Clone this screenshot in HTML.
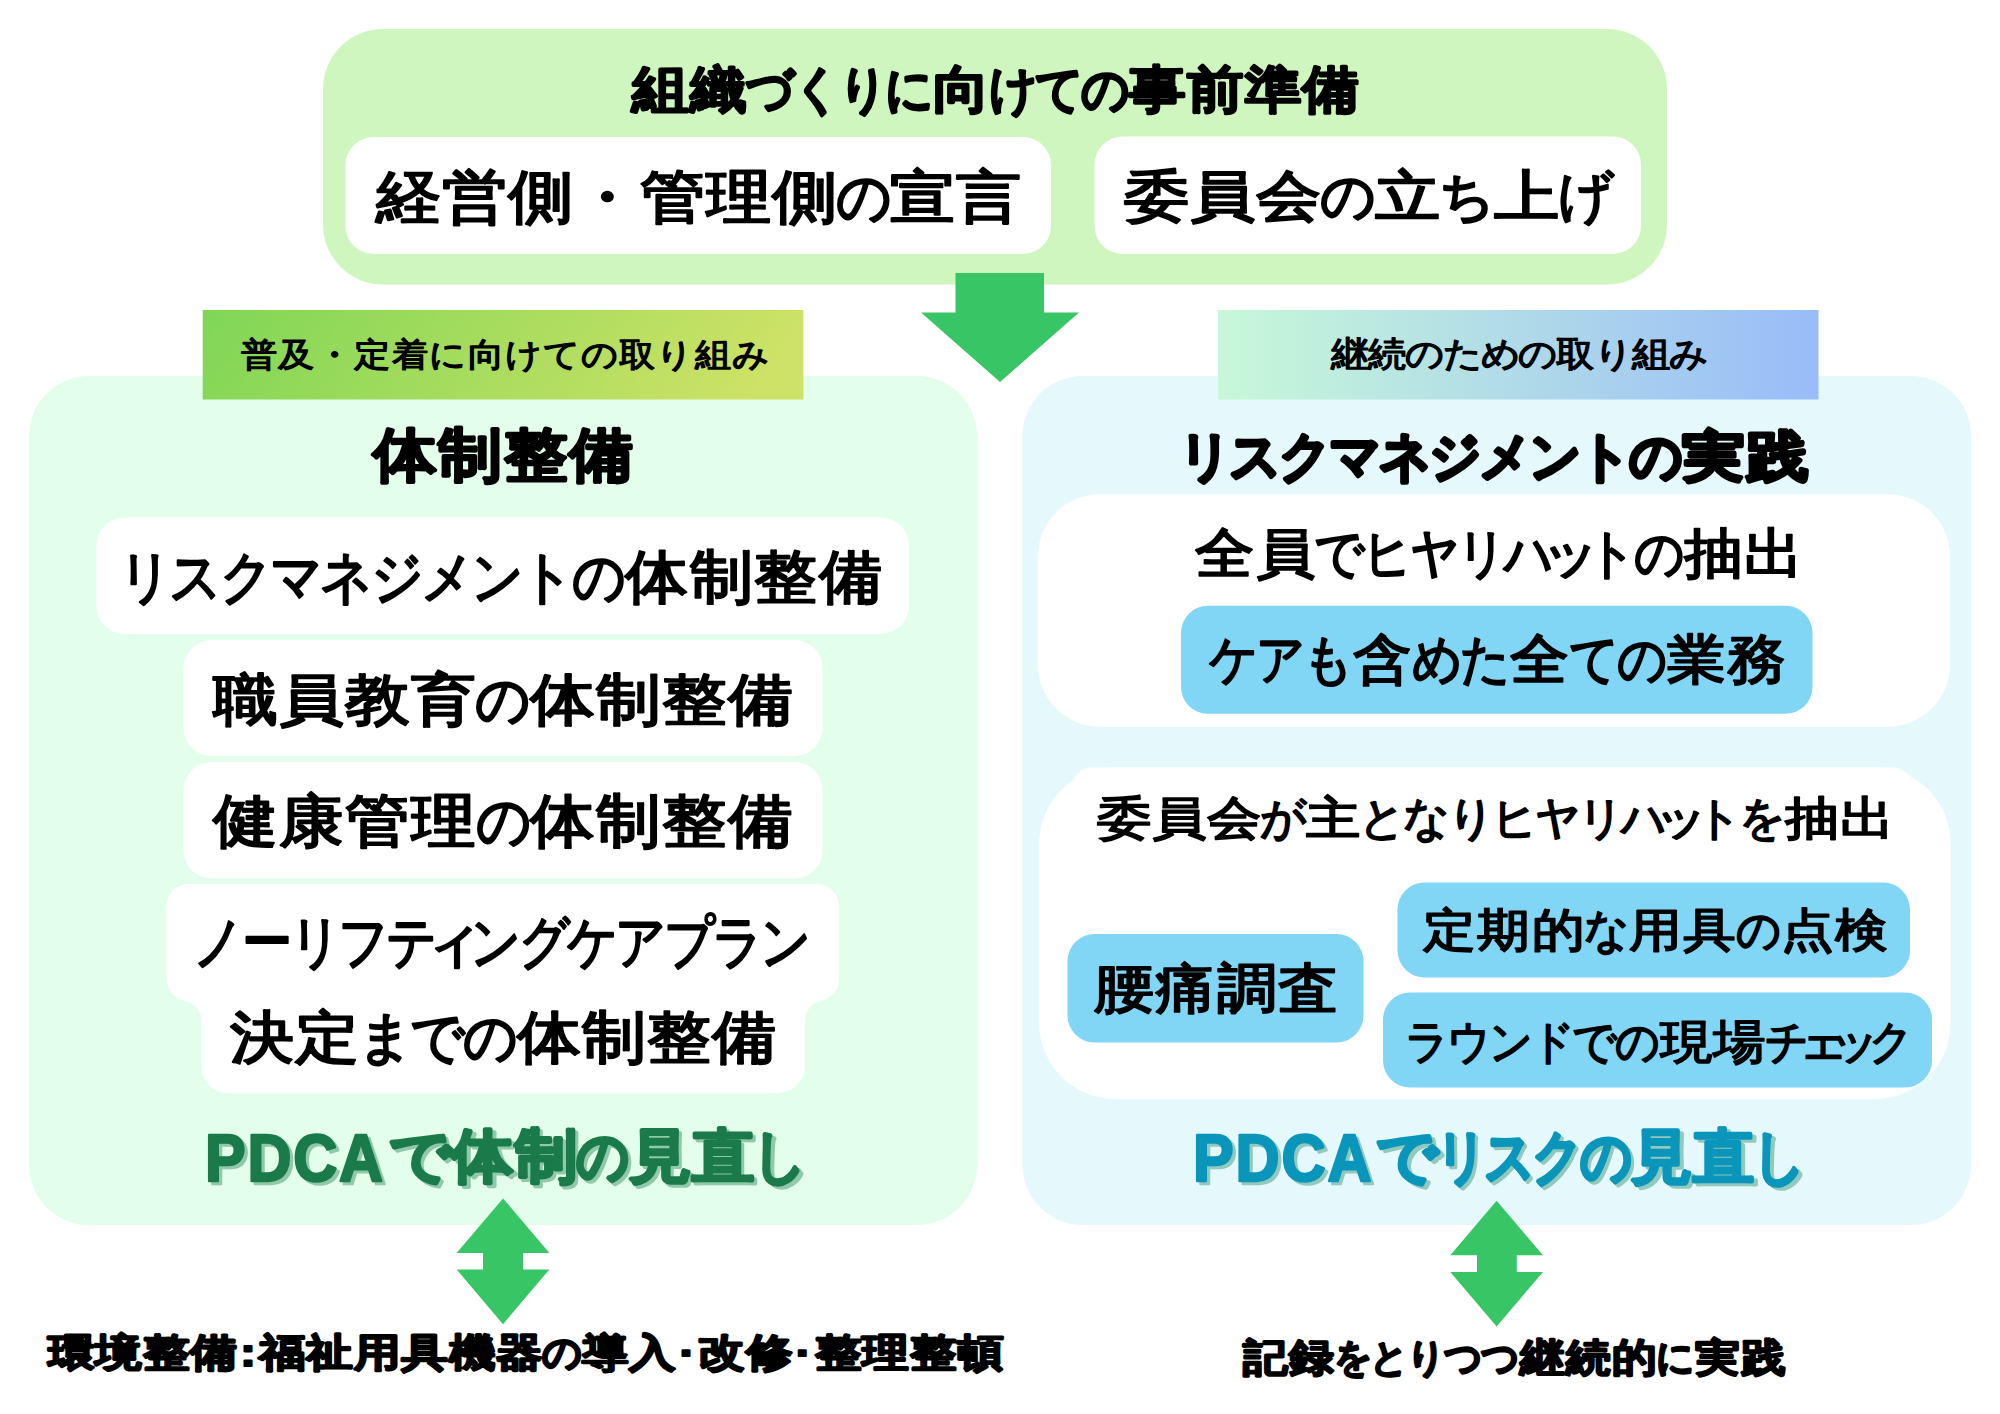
<!DOCTYPE html>
<html lang="ja"><head><meta charset="utf-8"><title>組織づくり</title>
<style>html,body{margin:0;padding:0;background:#fff;width:2000px;height:1414px;overflow:hidden}
svg{display:block;font-family:"Liberation Sans",sans-serif}
text{font-family:"Liberation Sans",sans-serif}</style></head>
<body><svg width="2000" height="1414" viewBox="0 0 2000 1414">
<defs><linearGradient id="gL" x1="0" y1="0" x2="1" y2="0.1"><stop offset="0" stop-color="#80d656"/><stop offset="1" stop-color="#cde266"/></linearGradient><linearGradient id="gR" x1="0" y1="0" x2="1" y2="0"><stop offset="0" stop-color="#c8f8d8"/><stop offset="1" stop-color="#98bcf9"/></linearGradient></defs>
<rect x="323" y="29" width="1344" height="255.5" rx="60" fill="#d0f6c0"/>
<rect x="345.5" y="137" width="705.5" height="117" rx="28" fill="#fff"/>
<rect x="1094.5" y="136.5" width="546.5" height="117.5" rx="28" fill="#fff"/>
<polygon points="955.5,273 1044,273 1044,312.5 1079,312.5 1000,382 921,312.5 955.5,312.5" fill="#37c566"/>
<rect x="29" y="376" width="948" height="849" rx="60" fill="#e4feec"/>
<rect x="1022.5" y="376" width="948.5" height="849" rx="60" fill="#e5f9fd"/>
<rect x="202.7" y="310" width="600.7" height="89.5" fill="url(#gL)"/>
<rect x="1218" y="310" width="600.5" height="89.5" fill="url(#gR)"/>
<rect x="96.5" y="517.5" width="812.5" height="116.5" rx="28" fill="#fff"/>
<rect x="183.5" y="640" width="639" height="116" rx="28" fill="#fff"/>
<rect x="183.5" y="762" width="639" height="116.5" rx="28" fill="#fff"/>
<rect x="166.5" y="884" width="672.5" height="117" rx="22" fill="#fff"/>
<rect x="201" y="960" width="604" height="133.4" rx="28" fill="#fff"/>
<path d="M183,1001 L201,1001 L201,1021 A18 20 0 0 0 183,1001 Z" fill="#fff"/>
<path d="M823,1001 L805,1001 L805,1021 A18 20 0 0 1 823,1001 Z" fill="#fff"/>
<rect x="1038" y="494.3" width="912" height="232.4" rx="62" fill="#fff"/>
<rect x="1181" y="605.8" width="631.5" height="108" rx="27" fill="#80d6f4"/>
<rect x="1039.2" y="767.5" width="911.5" height="331.5" rx="76" fill="#fff"/>
<rect x="1072" y="767.5" width="841" height="60" rx="20" fill="#fff"/>
<rect x="1067.5" y="934" width="296" height="108.5" rx="27" fill="#80d6f4"/>
<rect x="1397.5" y="882.5" width="512.5" height="95" rx="27" fill="#80d6f4"/>
<rect x="1383" y="992.5" width="549" height="95" rx="27" fill="#80d6f4"/>
<polygon points="503,1198.4 549.4,1252.9 523,1252.9 523,1269.4 549.4,1269.4 503,1324.2 456.6,1269.4 483,1269.4 483,1252.9 456.6,1252.9" fill="#37c566"/>
<polygon points="1496.6,1200.7 1543,1255.3 1516.8,1255.3 1516.8,1271.9 1543,1271.9 1496.6,1326.6 1450.3,1271.9 1477,1271.9 1477,1255.3 1450.3,1255.3" fill="#37c566"/>
<g aria-label="組織づくりに向けての事前準備" text-anchor="middle" font-size="50.90" font-weight="bold" fill="#000" stroke="#000" stroke-width="2.07" stroke-linejoin="round"><text transform="translate(660.7,106.8) scale(1.112,1)">組</text><text transform="translate(718.5,106.8) scale(1.112,1)">織</text><text transform="translate(770.4,106.8) scale(0.937,1)">づ</text><text transform="translate(816.7,106.8) scale(0.937,1)">く</text><text transform="translate(862.9,106.8) scale(0.937,1)">り</text><text transform="translate(909.1,106.8) scale(0.937,1)">に</text><text transform="translate(961.1,106.8) scale(1.112,1)">向</text><text transform="translate(1013.1,106.8) scale(0.937,1)">け</text><text transform="translate(1059.3,106.8) scale(0.937,1)">て</text><text transform="translate(1105.5,106.8) scale(0.937,1)">の</text><text transform="translate(1157.5,106.8) scale(1.112,1)">事</text><text transform="translate(1215.2,106.8) scale(1.112,1)">前</text><text transform="translate(1273.0,106.8) scale(1.112,1)">準</text><text transform="translate(1330.8,106.8) scale(1.112,1)">備</text></g>
<g aria-label="経営側・管理側の宣言" text-anchor="middle" font-size="57.54" font-weight="normal" fill="#000" stroke="#000" stroke-width="2.33" stroke-linejoin="round"><text transform="translate(408.2,216.5) scale(1.123,1)">経</text><text transform="translate(474.1,216.5) scale(1.123,1)">営</text><text transform="translate(540.1,216.5) scale(1.123,1)">側</text><text transform="translate(606.0,216.5) scale(1.123,1)">・</text><text transform="translate(672.0,216.5) scale(1.123,1)">管</text><text transform="translate(737.9,216.5) scale(1.123,1)">理</text><text transform="translate(803.8,216.5) scale(1.123,1)">側</text><text transform="translate(863.2,216.5) scale(0.946,1)">の</text><text transform="translate(922.5,216.5) scale(1.123,1)">宣</text><text transform="translate(988.4,216.5) scale(1.123,1)">言</text></g>
<g aria-label="委員会の立ち上げ" text-anchor="middle" font-size="54.65" font-weight="normal" fill="#000" stroke="#000" stroke-width="2.3" stroke-linejoin="round"><text transform="translate(1156.7,214.9) scale(1.185,1)">委</text><text transform="translate(1222.8,214.9) scale(1.185,1)">員</text><text transform="translate(1288.9,214.9) scale(1.185,1)">会</text><text transform="translate(1348.3,214.9) scale(0.998,1)">の</text><text transform="translate(1407.8,214.9) scale(1.185,1)">立</text><text transform="translate(1467.2,214.9) scale(0.998,1)">ち</text><text transform="translate(1526.7,214.9) scale(1.185,1)">上</text><text transform="translate(1586.1,214.9) scale(0.998,1)">げ</text></g>
<g aria-label="普及・定着に向けての取り組み" text-anchor="middle" font-size="32.70" font-weight="normal" fill="#000" stroke="#000" stroke-width="1.36" stroke-linejoin="round"><text transform="translate(258.4,365.5) scale(1.100,1)">普</text><text transform="translate(296.2,365.5) scale(1.100,1)">及</text><text transform="translate(334.0,365.5) scale(1.100,1)">・</text><text transform="translate(371.9,365.5) scale(1.100,1)">定</text><text transform="translate(409.7,365.5) scale(1.100,1)">着</text><text transform="translate(447.5,365.5) scale(1.100,1)">に</text><text transform="translate(485.4,365.5) scale(1.100,1)">向</text><text transform="translate(523.2,365.5) scale(1.100,1)">け</text><text transform="translate(561.0,365.5) scale(1.100,1)">て</text><text transform="translate(598.9,365.5) scale(1.100,1)">の</text><text transform="translate(636.7,365.5) scale(1.100,1)">取</text><text transform="translate(674.5,365.5) scale(1.100,1)">り</text><text transform="translate(712.4,365.5) scale(1.100,1)">組</text><text transform="translate(750.2,365.5) scale(1.100,1)">み</text></g>
<g aria-label="継続のための取り組み" text-anchor="middle" font-size="35.01" font-weight="normal" fill="#000" stroke="#000" stroke-width="1.38" stroke-linejoin="round"><text transform="translate(1350.0,366.3) scale(1.100,1)">継</text><text transform="translate(1387.7,366.3) scale(1.100,1)">続</text><text transform="translate(1425.3,366.3) scale(1.100,1)">の</text><text transform="translate(1462.9,366.3) scale(1.100,1)">た</text><text transform="translate(1500.6,366.3) scale(1.100,1)">め</text><text transform="translate(1538.2,366.3) scale(1.100,1)">の</text><text transform="translate(1575.8,366.3) scale(1.100,1)">取</text><text transform="translate(1613.5,366.3) scale(1.100,1)">り</text><text transform="translate(1651.1,366.3) scale(1.100,1)">組</text><text transform="translate(1688.7,366.3) scale(1.100,1)">み</text></g>
<g aria-label="体制整備" text-anchor="middle" font-size="58.08" font-weight="bold" fill="#000" stroke="#000" stroke-width="2.37" stroke-linejoin="round"><text transform="translate(405.0,474.9) scale(1.102,1)">体</text><text transform="translate(470.3,474.9) scale(1.102,1)">制</text><text transform="translate(535.6,474.9) scale(1.102,1)">整</text><text transform="translate(600.9,474.9) scale(1.102,1)">備</text></g>
<g aria-label="リスクマネジメントの体制整備" text-anchor="middle" font-size="58.14" font-weight="normal" fill="#000" stroke="#000" stroke-width="2.28" stroke-linejoin="round"><text transform="translate(145.4,596.9) scale(0.893,1)">リ</text><text transform="translate(195.7,596.9) scale(0.893,1)">ス</text><text transform="translate(246.0,596.9) scale(0.893,1)">ク</text><text transform="translate(296.3,596.9) scale(0.893,1)">マ</text><text transform="translate(346.6,596.9) scale(0.893,1)">ネ</text><text transform="translate(396.9,596.9) scale(0.893,1)">ジ</text><text transform="translate(447.2,596.9) scale(0.893,1)">メ</text><text transform="translate(497.5,596.9) scale(0.893,1)">ン</text><text transform="translate(547.8,596.9) scale(0.893,1)">ト</text><text transform="translate(598.8,596.9) scale(0.915,1)">の</text><text transform="translate(656.8,596.9) scale(1.087,1)">体</text><text transform="translate(721.3,596.9) scale(1.087,1)">制</text><text transform="translate(785.8,596.9) scale(1.087,1)">整</text><text transform="translate(850.3,596.9) scale(1.087,1)">備</text></g>
<g aria-label="職員教育の体制整備" text-anchor="middle" font-size="55.97" font-weight="normal" fill="#000" stroke="#000" stroke-width="2.3" stroke-linejoin="round"><text transform="translate(245.2,719.0) scale(1.157,1)">職</text><text transform="translate(311.3,719.0) scale(1.157,1)">員</text><text transform="translate(377.4,719.0) scale(1.157,1)">教</text><text transform="translate(443.4,719.0) scale(1.157,1)">育</text><text transform="translate(502.9,719.0) scale(0.974,1)">の</text><text transform="translate(562.4,719.0) scale(1.157,1)">体</text><text transform="translate(628.4,719.0) scale(1.157,1)">制</text><text transform="translate(694.5,719.0) scale(1.157,1)">整</text><text transform="translate(760.6,719.0) scale(1.157,1)">備</text></g>
<g aria-label="健康管理の体制整備" text-anchor="middle" font-size="58.15" font-weight="normal" fill="#000" stroke="#000" stroke-width="2.32" stroke-linejoin="round"><text transform="translate(245.4,841.3) scale(1.113,1)">健</text><text transform="translate(311.5,841.3) scale(1.113,1)">康</text><text transform="translate(377.6,841.3) scale(1.113,1)">管</text><text transform="translate(443.6,841.3) scale(1.113,1)">理</text><text transform="translate(503.1,841.3) scale(0.938,1)">の</text><text transform="translate(562.5,841.3) scale(1.113,1)">体</text><text transform="translate(628.6,841.3) scale(1.113,1)">制</text><text transform="translate(694.7,841.3) scale(1.113,1)">整</text><text transform="translate(760.7,841.3) scale(1.113,1)">備</text></g>
<g aria-label="ノーリフティングケアプラン" text-anchor="middle" font-size="57.52" font-weight="normal" fill="#000" stroke="#000" stroke-width="2.26" stroke-linejoin="round"><text transform="translate(218.7,961.7) scale(0.866,1)">ノ</text><text transform="translate(267.0,961.7) scale(0.866,1)">ー</text><text transform="translate(315.2,961.7) scale(0.866,1)">リ</text><text transform="translate(363.5,961.7) scale(0.866,1)">フ</text><text transform="translate(411.8,961.7) scale(0.866,1)">テ</text><text transform="translate(453.8,961.7) scale(1.002,1)">ィ</text><text transform="translate(495.9,961.7) scale(0.866,1)">ン</text><text transform="translate(544.2,961.7) scale(0.866,1)">グ</text><text transform="translate(592.4,961.7) scale(0.866,1)">ケ</text><text transform="translate(640.7,961.7) scale(0.866,1)">ア</text><text transform="translate(689.0,961.7) scale(0.866,1)">プ</text><text transform="translate(737.2,961.7) scale(0.866,1)">ラ</text><text transform="translate(785.5,961.7) scale(0.866,1)">ン</text></g>
<g aria-label="決定までの体制整備" text-anchor="middle" font-size="56.79" font-weight="normal" fill="#000" stroke="#000" stroke-width="2.29" stroke-linejoin="round"><text transform="translate(261.9,1056.9) scale(1.123,1)">決</text><text transform="translate(327.0,1056.9) scale(1.123,1)">定</text><text transform="translate(385.6,1056.9) scale(0.946,1)">ま</text><text transform="translate(437.7,1056.9) scale(0.946,1)">で</text><text transform="translate(489.8,1056.9) scale(0.946,1)">の</text><text transform="translate(548.3,1056.9) scale(1.123,1)">体</text><text transform="translate(613.4,1056.9) scale(1.123,1)">制</text><text transform="translate(678.5,1056.9) scale(1.123,1)">整</text><text transform="translate(743.6,1056.9) scale(1.123,1)">備</text></g>
<text transform="translate(208.20,1183.80) scale(0.9121,1)" font-size="66.78" font-weight="bold" letter-spacing="2.00" fill="#90c9a9" stroke="#90c9a9" stroke-width="2.5" stroke-linejoin="round">PDCA</text><text transform="translate(205.00,1180.60) scale(0.9121,1)" font-size="66.78" font-weight="bold" letter-spacing="2.00" fill="#1a7a4a" stroke="#1a7a4a" stroke-width="2.5" stroke-linejoin="round">PDCA</text>
<g text-anchor="middle" font-size="57.76" font-weight="bold" fill="#90c9a9" stroke="#90c9a9" stroke-width="2.98" stroke-linejoin="round"><text transform="translate(423.9,1179.3) scale(1.074,1)">で</text><text transform="translate(485.6,1179.3) scale(1.074,1)">体</text><text transform="translate(548.9,1179.3) scale(1.074,1)">制</text><text transform="translate(605.9,1179.3) scale(0.905,1)">の</text><text transform="translate(662.9,1179.3) scale(1.074,1)">見</text><text transform="translate(726.2,1179.3) scale(1.074,1)">直</text><text transform="translate(783.2,1179.3) scale(0.905,1)">し</text></g><g aria-label="で体制の見直し" text-anchor="middle" font-size="57.76" font-weight="bold" fill="#1a7a4a" stroke="#1a7a4a" stroke-width="2.98" stroke-linejoin="round"><text transform="translate(420.7,1176.1) scale(1.074,1)">で</text><text transform="translate(482.4,1176.1) scale(1.074,1)">体</text><text transform="translate(545.7,1176.1) scale(1.074,1)">制</text><text transform="translate(602.7,1176.1) scale(0.905,1)">の</text><text transform="translate(659.7,1176.1) scale(1.074,1)">見</text><text transform="translate(723.0,1176.1) scale(1.074,1)">直</text><text transform="translate(780.0,1176.1) scale(0.905,1)">し</text></g>
<g aria-label="リスクマネジメントの実践" text-anchor="middle" font-size="54.01" font-weight="bold" fill="#000" stroke="#000" stroke-width="3.4" stroke-linejoin="round"><text transform="translate(1205.5,475.0) scale(0.954,1)">リ</text><text transform="translate(1255.5,475.0) scale(0.954,1)">ス</text><text transform="translate(1305.5,475.0) scale(0.954,1)">ク</text><text transform="translate(1355.4,475.0) scale(0.954,1)">マ</text><text transform="translate(1405.4,475.0) scale(0.954,1)">ネ</text><text transform="translate(1455.4,475.0) scale(0.954,1)">ジ</text><text transform="translate(1505.3,475.0) scale(0.954,1)">メ</text><text transform="translate(1555.3,475.0) scale(0.954,1)">ン</text><text transform="translate(1605.3,475.0) scale(0.954,1)">ト</text><text transform="translate(1655.9,475.0) scale(0.979,1)">の</text><text transform="translate(1713.5,475.0) scale(1.162,1)">実</text><text transform="translate(1777.6,475.0) scale(1.162,1)">践</text></g>
<g aria-label="全員でヒヤリハットの抽出" text-anchor="middle" font-size="53.98" font-weight="normal" fill="#000" stroke="#000" stroke-width="2.15" stroke-linejoin="round"><text transform="translate(1225.0,572.0) scale(1.097,1)">全</text><text transform="translate(1285.5,572.0) scale(1.097,1)">員</text><text transform="translate(1339.9,572.0) scale(0.924,1)">で</text><text transform="translate(1387.6,572.0) scale(0.901,1)">ヒ</text><text transform="translate(1434.8,572.0) scale(0.901,1)">ヤ</text><text transform="translate(1481.9,572.0) scale(0.901,1)">リ</text><text transform="translate(1529.1,572.0) scale(0.901,1)">ハ</text><text transform="translate(1570.2,572.0) scale(1.042,1)">ッ</text><text transform="translate(1611.3,572.0) scale(0.901,1)">ト</text><text transform="translate(1659.0,572.0) scale(0.924,1)">の</text><text transform="translate(1713.4,572.0) scale(1.097,1)">抽</text><text transform="translate(1773.9,572.0) scale(1.097,1)">出</text></g>
<g aria-label="ケアも含めた全ての業務" text-anchor="middle" font-size="54.34" font-weight="normal" fill="#000" stroke="#000" stroke-width="2.13" stroke-linejoin="round"><text transform="translate(1233.6,678.4) scale(0.894,1)">ケ</text><text transform="translate(1280.7,678.4) scale(0.894,1)">ア</text><text transform="translate(1328.4,678.4) scale(0.917,1)">も</text><text transform="translate(1382.7,678.4) scale(1.089,1)">含</text><text transform="translate(1437.1,678.4) scale(0.917,1)">め</text><text transform="translate(1485.4,678.4) scale(0.917,1)">た</text><text transform="translate(1539.7,678.4) scale(1.089,1)">全</text><text transform="translate(1594.1,678.4) scale(0.917,1)">て</text><text transform="translate(1642.4,678.4) scale(0.917,1)">の</text><text transform="translate(1696.7,678.4) scale(1.089,1)">業</text><text transform="translate(1757.1,678.4) scale(1.089,1)">務</text></g>
<g aria-label="委員会が主となりヒヤリハットを抽出" text-anchor="middle" font-size="45.67" font-weight="normal" fill="#000" stroke="#000" stroke-width="1.89" stroke-linejoin="round"><text transform="translate(1123.8,833.7) scale(1.182,1)">委</text><text transform="translate(1178.9,833.7) scale(1.182,1)">員</text><text transform="translate(1234.1,833.7) scale(1.182,1)">会</text><text transform="translate(1283.6,833.7) scale(0.996,1)">が</text><text transform="translate(1333.2,833.7) scale(1.182,1)">主</text><text transform="translate(1382.8,833.7) scale(0.996,1)">と</text><text transform="translate(1426.9,833.7) scale(0.996,1)">な</text><text transform="translate(1471.0,833.7) scale(0.996,1)">り</text><text transform="translate(1514.6,833.7) scale(0.971,1)">ヒ</text><text transform="translate(1557.5,833.7) scale(0.971,1)">ヤ</text><text transform="translate(1600.5,833.7) scale(0.971,1)">リ</text><text transform="translate(1643.5,833.7) scale(0.971,1)">ハ</text><text transform="translate(1681.0,833.7) scale(1.123,1)">ッ</text><text transform="translate(1718.5,833.7) scale(0.971,1)">ト</text><text transform="translate(1762.0,833.7) scale(0.996,1)">を</text><text transform="translate(1811.6,833.7) scale(1.182,1)">抽</text><text transform="translate(1866.7,833.7) scale(1.182,1)">出</text></g>
<g aria-label="腰痛調査" text-anchor="middle" font-size="54.14" font-weight="normal" fill="#000" stroke="#000" stroke-width="2.16" stroke-linejoin="round"><text transform="translate(1124.0,1007.1) scale(1.111,1)">腰</text><text transform="translate(1185.3,1007.1) scale(1.111,1)">痛</text><text transform="translate(1246.7,1007.1) scale(1.111,1)">調</text><text transform="translate(1308.0,1007.1) scale(1.111,1)">査</text></g>
<g aria-label="定期的な用具の点検" text-anchor="middle" font-size="46.31" font-weight="normal" fill="#000" stroke="#000" stroke-width="1.89" stroke-linejoin="round"><text transform="translate(1449.8,945.5) scale(1.147,1)">定</text><text transform="translate(1504.0,945.5) scale(1.147,1)">期</text><text transform="translate(1558.2,945.5) scale(1.147,1)">的</text><text transform="translate(1606.9,945.5) scale(0.966,1)">な</text><text transform="translate(1655.7,945.5) scale(1.147,1)">用</text><text transform="translate(1709.9,945.5) scale(1.147,1)">具</text><text transform="translate(1758.7,945.5) scale(0.966,1)">の</text><text transform="translate(1807.4,945.5) scale(1.147,1)">点</text><text transform="translate(1861.6,945.5) scale(1.147,1)">検</text></g>
<g aria-label="ラウンドでの現場チェック" text-anchor="middle" font-size="46.92" font-weight="normal" fill="#000" stroke="#000" stroke-width="1.79" stroke-linejoin="round"><text transform="translate(1427.4,1057.6) scale(0.918,1)">ラ</text><text transform="translate(1469.1,1057.6) scale(0.918,1)">ウ</text><text transform="translate(1510.9,1057.6) scale(0.918,1)">ン</text><text transform="translate(1552.6,1057.6) scale(0.918,1)">ド</text><text transform="translate(1594.9,1057.6) scale(0.941,1)">で</text><text transform="translate(1637.7,1057.6) scale(0.941,1)">の</text><text transform="translate(1685.9,1057.6) scale(1.118,1)">現</text><text transform="translate(1739.4,1057.6) scale(1.118,1)">場</text><text transform="translate(1787.1,1057.6) scale(0.918,1)">チ</text><text transform="translate(1823.5,1057.6) scale(1.062,1)">ェ</text><text transform="translate(1854.5,1057.6) scale(1.062,1)">ッ</text><text transform="translate(1890.9,1057.6) scale(0.918,1)">ク</text></g>
<text transform="translate(1196.20,1183.80) scale(0.9210,1)" font-size="66.28" font-weight="bold" letter-spacing="2.00" fill="#92c9bd" stroke="#92c9bd" stroke-width="2.5" stroke-linejoin="round">PDCA</text><text transform="translate(1193.00,1180.60) scale(0.9210,1)" font-size="66.28" font-weight="bold" letter-spacing="2.00" fill="#0a95ba" stroke="#0a95ba" stroke-width="2.5" stroke-linejoin="round">PDCA</text>
<g text-anchor="middle" font-size="58.61" font-weight="bold" fill="#92c9bd" stroke="#92c9bd" stroke-width="3.01" stroke-linejoin="round"><text transform="translate(1410.7,1179.7) scale(1.034,1)">で</text><text transform="translate(1464.2,1179.7) scale(0.849,1)">リ</text><text transform="translate(1512.4,1179.7) scale(0.849,1)">ス</text><text transform="translate(1560.6,1179.7) scale(0.849,1)">ク</text><text transform="translate(1609.5,1179.7) scale(0.871,1)">の</text><text transform="translate(1665.1,1179.7) scale(1.034,1)">見</text><text transform="translate(1727.0,1179.7) scale(1.034,1)">直</text><text transform="translate(1782.6,1179.7) scale(0.871,1)">し</text></g><g aria-label="でリスクの見直し" text-anchor="middle" font-size="58.61" font-weight="bold" fill="#0a95ba" stroke="#0a95ba" stroke-width="3.01" stroke-linejoin="round"><text transform="translate(1407.5,1176.5) scale(1.034,1)">で</text><text transform="translate(1461.0,1176.5) scale(0.849,1)">リ</text><text transform="translate(1509.2,1176.5) scale(0.849,1)">ス</text><text transform="translate(1557.4,1176.5) scale(0.849,1)">ク</text><text transform="translate(1606.3,1176.5) scale(0.871,1)">の</text><text transform="translate(1661.9,1176.5) scale(1.034,1)">見</text><text transform="translate(1723.8,1176.5) scale(1.034,1)">直</text><text transform="translate(1779.4,1176.5) scale(0.871,1)">し</text></g>
<g aria-label="環境整備:福祉用具機器の導入·改修·整理整頓" text-anchor="middle" font-size="38.87" font-weight="bold" fill="#000" stroke="#000" stroke-width="2.09" stroke-linejoin="round"><text transform="translate(70.9,1366.4) scale(1.197,1)">環</text><text transform="translate(118.4,1366.4) scale(1.197,1)">境</text><text transform="translate(165.9,1366.4) scale(1.197,1)">整</text><text transform="translate(213.4,1366.4) scale(1.197,1)">備</text><text transform="translate(247.9,1366.4) scale(1.197,1)">:</text><text transform="translate(282.3,1366.4) scale(1.197,1)">福</text><text transform="translate(329.8,1366.4) scale(1.197,1)">祉</text><text transform="translate(377.3,1366.4) scale(1.197,1)">用</text><text transform="translate(424.8,1366.4) scale(1.197,1)">具</text><text transform="translate(472.3,1366.4) scale(1.197,1)">機</text><text transform="translate(519.8,1366.4) scale(1.197,1)">器</text><text transform="translate(562.5,1366.4) scale(1.008,1)">の</text><text transform="translate(605.3,1366.4) scale(1.197,1)">導</text><text transform="translate(652.8,1366.4) scale(1.197,1)">入</text><text transform="translate(687.2,1366.4) scale(1.197,1)">·</text><text transform="translate(721.6,1366.4) scale(1.197,1)">改</text><text transform="translate(769.1,1366.4) scale(1.197,1)">修</text><text transform="translate(803.6,1366.4) scale(1.197,1)">·</text><text transform="translate(838.0,1366.4) scale(1.197,1)">整</text><text transform="translate(885.5,1366.4) scale(1.197,1)">理</text><text transform="translate(933.0,1366.4) scale(1.197,1)">整</text><text transform="translate(980.5,1366.4) scale(1.197,1)">頓</text></g>
<g aria-label="記録をとりつつ継続的に実践" text-anchor="middle" font-size="39.38" font-weight="bold" fill="#000" stroke="#000" stroke-width="2.07" stroke-linejoin="round"><text transform="translate(1265.6,1371.1) scale(1.148,1)">記</text><text transform="translate(1311.7,1371.1) scale(1.148,1)">録</text><text transform="translate(1353.2,1371.1) scale(0.966,1)">を</text><text transform="translate(1390.1,1371.1) scale(0.966,1)">と</text><text transform="translate(1427.0,1371.1) scale(0.966,1)">り</text><text transform="translate(1463.9,1371.1) scale(0.966,1)">つ</text><text transform="translate(1500.8,1371.1) scale(0.966,1)">つ</text><text transform="translate(1542.3,1371.1) scale(1.148,1)">継</text><text transform="translate(1588.4,1371.1) scale(1.148,1)">続</text><text transform="translate(1634.6,1371.1) scale(1.148,1)">的</text><text transform="translate(1676.1,1371.1) scale(0.966,1)">に</text><text transform="translate(1717.6,1371.1) scale(1.148,1)">実</text><text transform="translate(1763.7,1371.1) scale(1.148,1)">践</text></g>
</svg></body></html>
